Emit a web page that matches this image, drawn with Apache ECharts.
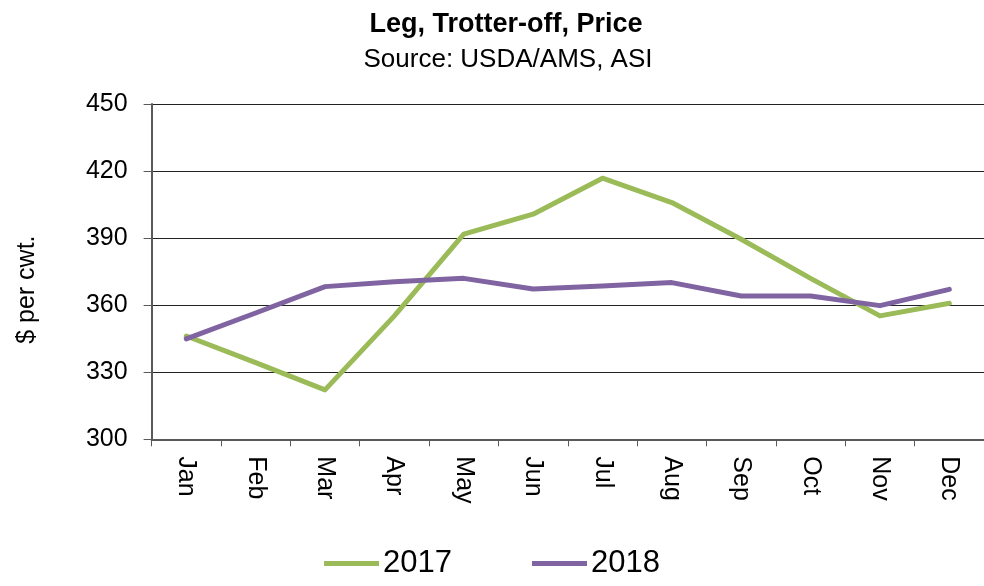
<!DOCTYPE html>
<html>
<head>
<meta charset="utf-8">
<script src="https://cdn.jsdelivr.net/npm/echarts@6/dist/echarts.min.js"></script>
<style>
html,body{margin:0;padding:0;background:#fff;}
#chart{width:984px;height:586px;}
</style>
</head>
<body>
<div id="chart"></div>
<script>
const months = ['Jan','Feb','Mar','Apr','May','Jun','Jul','Aug','Sep','Oct','Nov','Dec'];
const series2017 = [346.2, 334.3, 322.1, 355.2, 391.8, 400.7, 416.8, 405.9, 389.5, 372.0, 355.2, 360.9];
const series2018 = [344.9, 356.5, 368.3, 370.5, 372.0, 367.2, 368.6, 370.1, 364.1, 364.1, 359.8, 367.1];
const yTicks = [300, 330, 360, 390, 420, 450];

const FONT = '"Liberation Sans", Arial, sans-serif';
const chart = echarts.init(document.getElementById('chart'), null, {renderer: 'canvas'});
chart.setOption({
  backgroundColor: '#ffffff',
  animation: false,
  title: [
    {text: 'Leg, Trotter-off, Price', left: 506, top: 11, textAlign: 'center', padding: 0,
     textStyle: {fontFamily: FONT, fontSize: 27, fontWeight: 'bold', color: '#000', lineHeight: 27}},
    {text: 'Source: USDA/AMS, ASI', left: 508, top: 47, textAlign: 'center', padding: 0,
     textStyle: {fontFamily: FONT, fontSize: 26, fontWeight: 'normal', color: '#000', lineHeight: 26}}
  ],
  legend: {
    data: ['2017', '2018'],
    bottom: 2,
    left: 'center',
    icon: 'rect',
    itemWidth: 55,
    itemHeight: 5,
    itemGap: 80,
    textStyle: {fontFamily: FONT, fontSize: 31, color: '#000', padding: [0,0,0,-1]}
  },
  grid: {left: 151.6, right: -9.4, top: 104, bottom: 146.7, containLabel: false},
  xAxis: {
    type: 'category',
    data: months,
    boundaryGap: true,
    axisLine: {lineStyle: {color: '#595959', width: 2}},
    axisTick: {show: true, inside: false, length: 7, lineStyle: {color: '#595959', width: 1}},
    axisLabel: {rotate: -90, margin: 17, fontFamily: FONT, fontSize: 25, color: '#000'},
    splitLine: {show: false}
  },
  yAxis: {
    type: 'value',
    min: yTicks[0],
    max: yTicks[yTicks.length - 1],
    interval: yTicks[1] - yTicks[0],
    name: '$ per cwt.',
    nameLocation: 'middle',
    nameGap: 112,
    nameRotate: 90,
    nameTextStyle: {fontFamily: FONT, fontSize: 25, color: '#000', padding: [0, 36, 0, 0]},
    axisLine: {show: true, lineStyle: {color: '#595959', width: 2}},
    axisTick: {show: true, inside: false, length: 8, lineStyle: {color: '#595959', width: 1}},
    axisLabel: {margin: 24, fontFamily: FONT, fontSize: 25, color: '#000'},
    splitLine: {show: true, lineStyle: {color: '#222', width: 1.2}}
  },
  series: [
    {name: '2017', type: 'line', data: series2017, symbol: 'none', smooth: false,
     itemStyle: {color: '#9BBB59'}, lineStyle: {color: '#9BBB59', width: 5, cap: 'round', join: 'round'}},
    {name: '2018', type: 'line', data: series2018, symbol: 'none', smooth: false,
     itemStyle: {color: '#8064A2'}, lineStyle: {color: '#8064A2', width: 5, cap: 'round', join: 'round'}}
  ]
});
</script>
</body>
</html>
